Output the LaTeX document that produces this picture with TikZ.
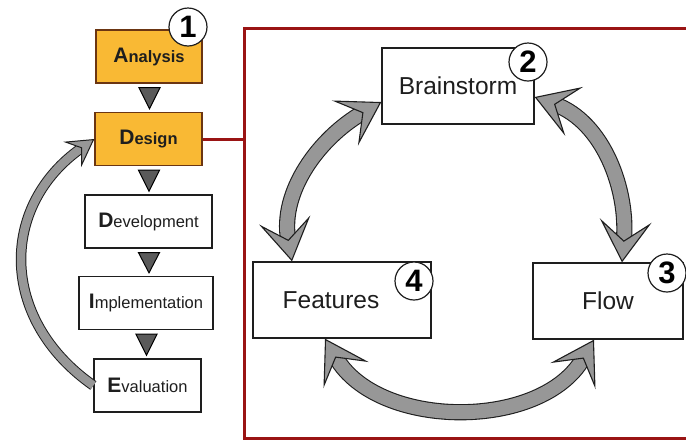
\documentclass[tikz,border=0pt]{standalone}
\usepackage{fontspec}
\setmainfont{Liberation Sans}
\usepackage{xcolor}
\usepackage{tikz}
\usetikzlibrary{arrows.meta, positioning, shapes, calc}

\definecolor{stageorange}{HTML}{F9B934}
\definecolor{stageedge}{HTML}{6B3512}
\definecolor{framered}{HTML}{9A1414}
\definecolor{arrowgray}{HTML}{979797}
\definecolor{tipgray}{HTML}{5A5A5A}
\definecolor{inkgray}{HTML}{1E1E1E}

% big bold initial, rest of the word smaller
\newcommand{\stagename}[2]{{\fontsize{21}{22}\selectfont\bfseries #1}{\fontsize{16.5}{18}\selectfont #2}}

\begin{document}
\begin{tikzpicture}[x=1pt, y=-1pt,
    stage/.style={draw=inkgray, line width=1.3pt, fill=white, text=inkgray,
      minimum height=53pt, inner sep=0pt},
    active/.style={stage, fill=stageorange, draw=stageedge, font=\bfseries},
    idea/.style={draw=inkgray, line width=1.3pt, fill=white, text=inkgray,
      minimum height=76pt, inner sep=0pt, font=\fontsize{24.5}{26}\selectfont},
    badge/.style={circle, draw=inkgray, line width=1.2pt, fill=white, text=black,
      minimum size=38pt, inner sep=0pt, font=\fontsize{31}{31}\selectfont\bfseries},
    flowtip/.style={draw=black, line width=1pt, fill=tipgray},
    frame/.style={draw=framered, line width=3pt},
    bighead/.tip={Stealth[length=42pt, width=52pt, inset=20pt, fill=arrowgray, line width=1.1pt]},
    smallhead/.tip={Stealth[length=27pt, width=31pt, inset=11pt, fill=arrowgray, line width=1pt]},
    cyclearrow/.style={line width=1.1pt, draw=inkgray, double=arrowgray,
      double distance=14pt, {bighead}-{bighead}},
    backarrow/.style={line width=1pt, draw=inkgray, double=arrowgray,
      double distance=8.5pt, -{smallhead}},
  ]
  \useasboundingbox (0,0) rectangle (686,440);

  % Outer frame
  \coordinate (frameleft) at (244,28);
  \draw[frame] (690,28) -- (frameleft) -- (244,438) -- (690,438);

  % Stage column
  \node[active, minimum width=106pt] (analysis) at (149,56.5) {\stagename{A}{nalysis}};
  \node[active, minimum width=107pt] (design) at (148.5,139) {\stagename{D}{esign}};
  \node[stage, minimum width=127pt] (development) at (148.5,221.5) {\stagename{D}{evelopment}};
  \node[stage, minimum width=134pt] (implementation) at (146,303) {\stagename{I}{mplementation}};
  \node[stage, minimum width=107pt] (evaluation) at (147.5,385.5) {\stagename{E}{valuation}};

  \foreach \a/\b in {analysis/design, design/development,
      development/implementation, implementation/evaluation}
    \draw[flowtip] ($(\a.south)+(-10,4)$) -- ($(\a.south)+(11,4)$)
      -- ($(\a.south |- \b.north)+(0.5,-3)$) -- cycle;

  % Feedback loop
  \draw[backarrow] (evaluation.west) to[out=145, in=215, looseness=1.2] (design.west);

  % Link into the frame
  \draw[frame] (design.east) -- (design.east -| frameleft);

  % Design cycle
  \node[idea, minimum width=152pt] (brainstorm) at (458,86) {Brainstorm};
  \node[idea, minimum width=178pt] (features) at (342,300) {\hspace*{-22pt}Features};
  \node[idea, minimum width=150pt] (flow) at (608,301) {Flow};

  \draw[cyclearrow] ($(features.north)+(-50,0)$) to[out=100, in=210] ($(brainstorm.west)+(0,16)$);
  \draw[cyclearrow] ($(brainstorm.east)+(0,11)$) to[out=-20, in=85] ($(flow.north)+(14,0)$);
  \draw[cyclearrow] ($(features.south)+(-17,0)$) to[out=-60, in=240] ($(flow.south)+(-14,0)$);

  % Step numbers
  \node[badge] (one) at (188,27) {1};
  \node[badge] (two) at (528,62) {2};
  \node[badge] (three) at (667,273) {3};
  \node[badge] (four) at (414,281) {4};
\end{tikzpicture}
\end{document}
